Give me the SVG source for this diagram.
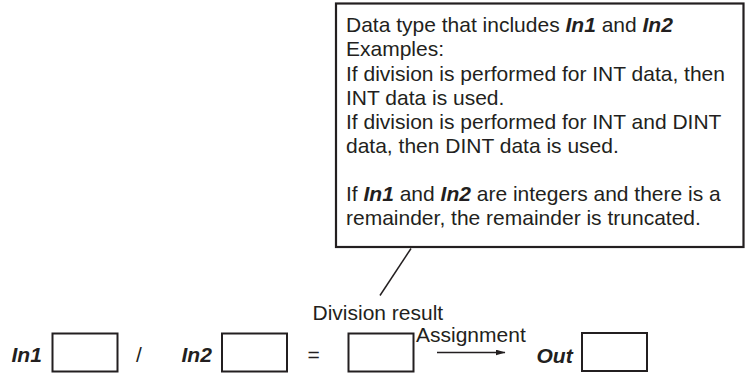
<svg xmlns="http://www.w3.org/2000/svg" width="745" height="376" viewBox="0 0 745 376">
  <style>
    text { font-family: "Liberation Sans", Arial, sans-serif; font-size: 21px; fill: #231f20; }
    .bi { font-weight: bold; font-style: italic; }
    .box { fill: #ffffff; stroke: #231f20; stroke-width: 2; }
    .callout { fill: #ffffff; stroke: #231f20; stroke-width: 2.2; }
    .conn { stroke: #231f20; stroke-width: 1.5; fill: none; }
  </style>
  <defs>
    <marker id="arrow" markerWidth="10" markerHeight="6" refX="9.5" refY="3" orient="auto" markerUnits="userSpaceOnUse">
      <path d="M0,0 L10,3 L0,6 Z" fill="#231f20"/>
    </marker>
  </defs>
  <rect width="745" height="376" fill="#ffffff"/>

  <g id="callout">
    <rect class="callout" x="336" y="3.5" width="407.5" height="243.5"/>
    <text x="346" y="32">Data type that includes <tspan class="bi">In1</tspan> and <tspan class="bi">In2</tspan></text>
    <text x="346" y="56">Examples:</text>
    <text x="346" y="80.5">If division is performed for INT data, then</text>
    <text x="346" y="104.5">INT data is used.</text>
    <text x="346" y="128.5">If division is performed for INT and DINT</text>
    <text x="346" y="152.5">data, then DINT data is used.</text>
    <text x="346" y="201">If <tspan class="bi">In1</tspan> and <tspan class="bi">In2</tspan> are integers and there is a</text>
    <text x="346" y="225">remainder, the remainder is truncated.</text>
  </g>

  <g id="connectors">
    <line class="conn" x1="411" y1="248.5" x2="380" y2="295.5"/>
    <line class="conn" x1="437" y1="352.5" x2="505" y2="352.5" marker-end="url(#arrow)"/>
  </g>

  <g id="in1">
    <text class="bi" x="11.5" y="362">In1</text>
    <rect class="box" x="52.5" y="333.5" width="65" height="38"/>
  </g>
  <g id="slash">
    <text x="136" y="362">/</text>
  </g>
  <g id="in2">
    <text class="bi" x="181.5" y="362">In2</text>
    <rect class="box" x="222" y="333.5" width="65" height="38"/>
  </g>
  <g id="equals">
    <text x="307.5" y="362">=</text>
  </g>
  <g id="result">
    <text x="312.5" y="320">Division result</text>
    <rect class="box" x="348.5" y="333.5" width="65" height="38"/>
  </g>
  <g id="assignment-label">
    <text x="416" y="341.5">Assignment</text>
  </g>
  <g id="out">
    <text class="bi" x="536.5" y="363">Out</text>
    <rect class="box" x="582" y="333" width="65" height="38"/>
  </g>
</svg>
